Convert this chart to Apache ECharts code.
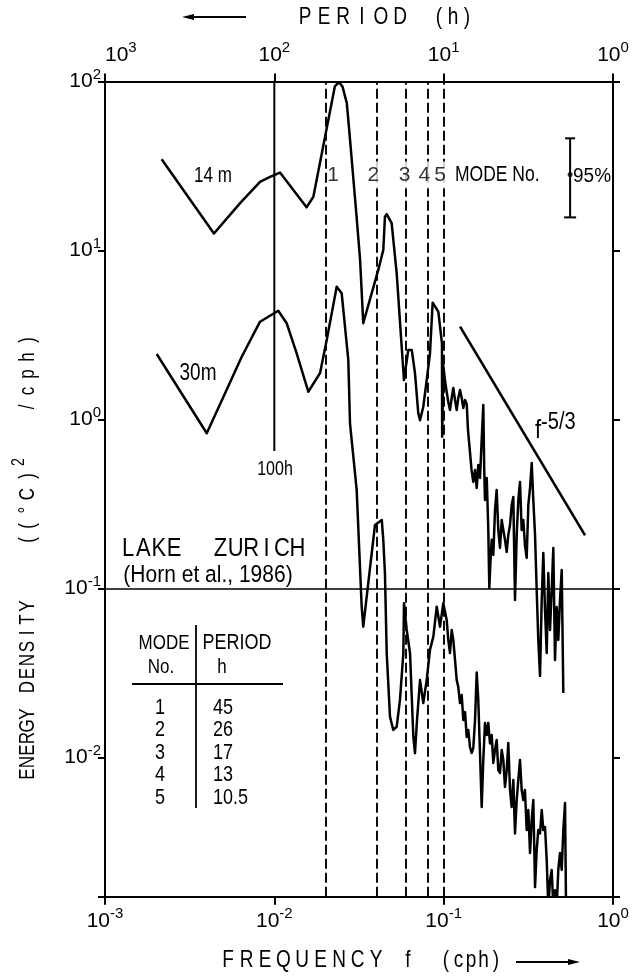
<!DOCTYPE html>
<html>
<head>
<meta charset="utf-8">
<script src="https://cdn.jsdelivr.net/npm/echarts@6/dist/echarts.min.js"></script>
<style>
  html, body { margin: 0; padding: 0; background: #fff; }
  #chart { width: 634px; height: 979px; }
</style>
</head>
<body>
<div id="chart"></div>
<script>
// Energy density spectra of temperature, Lake Zurich (Horn et al., 1986)
// frequency in cph, energy density in (°C)^2/cph

// 14 m record
const freq14 = [
  0.00216, 0.0044, 0.00626, 0.00823, 0.00943, 0.0108, 0.0155, 0.0170, 0.0228, 0.0241,
  0.0253, 0.0268, 0.0280, 0.0306, 0.0321, 0.0335, 0.0411, 0.0440, 0.0450, 0.0461,
  0.0493, 0.0528, 0.0565, 0.0583, 0.0618, 0.0648, 0.0677, 0.0708, 0.0725, 0.0758,
  0.0794, 0.0830, 0.0861, 0.0930, 0.0977, 0.0980, 0.0995, 0.1018, 0.1042, 0.1065,
  0.1090, 0.1115, 0.1140, 0.1167, 0.1194, 0.1220, 0.1249, 0.1278, 0.1306, 0.1337,
  0.1368, 0.1392, 0.1430, 0.1461, 0.1496, 0.1532, 0.1567, 0.1601, 0.1639, 0.1677,
  0.1714, 0.1736, 0.1754, 0.1796, 0.1834, 0.1860, 0.1891, 0.1922, 0.1964, 0.2010,
  0.2056, 0.2102, 0.2151, 0.2202, 0.2250, 0.2302, 0.2357, 0.2408, 0.2465, 0.2522,
  0.2578, 0.2638, 0.2700, 0.2760, 0.2823, 0.2889, 0.2954, 0.3020, 0.3092, 0.3162,
  0.3236, 0.3311, 0.3384, 0.3464, 0.3543, 0.3621, 0.3707, 0.3793, 0.3877, 0.3967,
  0.4060, 0.4150, 0.4246, 0.4345, 0.4441, 0.4545, 0.4650, 0.4753, 0.4864, 0.4979,
  0.5089];
const energy14 = [
  34.7, 12.6, 19.0, 25.5, 27.3, 28.9, 18.0, 20.8, 94, 99,
  93, 74.3, 45.1, 15.85, 8.79, 3.71, 7.67, 10.07, 15.85, 16.4,
  14.5, 7.33, 2.70, 1.71, 2.58, 2.58, 1.88, 1.09, 0.99, 1.19,
  1.71, 2.46, 4.91, 4.34, 2.82, 0.79, 2.07, 1.71, 1.455, 1.27,
  1.138, 1.34, 1.536, 1.304, 1.138, 1.34, 1.495, 1.34, 1.17, 1.304,
  1.235, 0.867, 0.642, 0.503, 0.427, 0.503, 0.393, 0.538, 0.451, 0.756,
  1.218, 0.503, 0.334, 0.451, 0.228, 0.1007, 0.1475, 0.194, 0.158, 0.291,
  0.383, 0.222, 0.1737, 0.254, 0.222, 0.194, 0.1644, 0.2073, 0.2375, 0.312,
  0.3478, 0.0855, 0.2073, 0.334, 0.427, 0.222, 0.254, 0.1809, 0.1516, 0.312,
  0.393, 0.553, 0.334, 0.2073, 0.098, 0.0496, 0.0304, 0.0855, 0.1622, 0.0746,
  0.0415, 0.1235, 0.0568, 0.098, 0.1737, 0.0378, 0.0777, 0.0496, 0.0855, 0.1287,
  0.0241];

// 30 m record
const freq30 = [
  0.00202, 0.00399, 0.00642, 0.00823, 0.01055, 0.01183, 0.01355, 0.01587, 0.01861, 0.02039,
  0.02335, 0.02499, 0.02734, 0.02798, 0.03064, 0.0328, 0.0335, 0.0393, 0.0431, 0.0440,
  0.0450, 0.0461, 0.0482, 0.0504, 0.0528, 0.0552, 0.0578, 0.0583, 0.0605, 0.0633,
  0.0662, 0.0677, 0.0696, 0.0725, 0.0758, 0.0794, 0.0830, 0.0869, 0.0910, 0.0952,
  0.0995, 0.1042, 0.1065, 0.1090, 0.1115, 0.1140, 0.1167, 0.1194, 0.1220, 0.1249,
  0.1278, 0.1306, 0.1337, 0.1368, 0.1398, 0.1430, 0.1464, 0.1496, 0.1532, 0.1567,
  0.1601, 0.1639, 0.1677, 0.1714, 0.1754, 0.1796, 0.1834, 0.1878, 0.1922, 0.1964,
  0.2010, 0.2056, 0.2102, 0.2151, 0.2202, 0.2250, 0.2302, 0.2357, 0.2408, 0.2465,
  0.2522, 0.2578, 0.2638, 0.2700, 0.2760, 0.2823, 0.2889, 0.2954, 0.3020, 0.3092,
  0.3162, 0.3236, 0.3311, 0.3384, 0.3464, 0.3543, 0.3621, 0.3707, 0.3793, 0.3877,
  0.3967, 0.4060, 0.4150, 0.4246, 0.4345, 0.4441, 0.4545, 0.4650, 0.4753, 0.4864,
  0.4979, 0.5089, 0.5208, 0.5280];
const energy30 = [
  2.44, 0.829, 2.35, 3.79, 4.40, 3.71, 2.46, 1.46, 1.88, 2.95,
  6.11, 5.58, 2.25, 0.949, 0.383, 0.078, 0.0594, 0.2375, 0.254, 0.194,
  0.123, 0.0414, 0.01744, 0.01455, 0.0152, 0.0219, 0.0414, 0.0818, 0.0568, 0.0414,
  0.01327, 0.0106, 0.01667, 0.0287, 0.0210, 0.0287, 0.0433, 0.0519, 0.078, 0.0594,
  0.0818, 0.0651, 0.0496, 0.0415, 0.0568, 0.0496, 0.0378, 0.0287, 0.0261, 0.0210,
  0.0234, 0.01667, 0.0186, 0.01322, 0.01455, 0.01153, 0.01063, 0.01138, 0.01667, 0.0318,
  0.0219, 0.01063, 0.00509, 0.00967, 0.016, 0.01358, 0.016, 0.0121, 0.01358, 0.00928,
  0.01108, 0.0127, 0.00843, 0.0081, 0.01108, 0.00967, 0.00669, 0.00843, 0.01218, 0.00642,
  0.00509, 0.00736, 0.00355, 0.0056, 0.00736, 0.00967, 0.00642, 0.0056, 0.00642, 0.00372,
  0.00489, 0.00272, 0.00427, 0.0056, 0.00171, 0.00284, 0.00372, 0.00355, 0.00489, 0.00372,
  0.00388, 0.00247, 0.0013, 0.00188, 0.00216, 0.0013, 0.00164, 0.0013, 0.00216, 0.00272,
  0.00216, 0.00372, 0.00538, 0.0013];

// Seiche modes and their periods (h)
const modeNumbers = [1, 2, 3, 4, 5];
const modePeriods = [45, 26, 17, 13, 10.5];
const modeLabelLevel = 28;

// 100 h marker
const markerPeriod = 100;
const markerFloor = 0.65;

// f^-5/3 reference slope (end points)
const slopeFreq = [0.125, 0.684];
const slopeEnergy = [3.54, 0.206];

// 95% confidence interval
const ciFreq = 0.558;
const ciLow = 15.7;
const ciHigh = 46.1;
const ciMid = 28.2;

// axis ranges
const freqRange = [0.001, 1];
const periodRange = [1, 1000];
const energyRange = [0.0015, 100];

const FONT = '"Liberation Sans", Arial, Helvetica, sans-serif';
const INK = '#000';

const modeFreqs = modePeriods.map(p => 1 / p);
const pairs = (xs, ys) => xs.map((x, i) => [x, ys[i]]);

function powerLabel(v) {
  const e = Math.log10(v);
  const r = Math.round(e);
  if (Math.abs(e - r) > 1e-6) return '';
  return '{b|10}{s|' + (r < 0 ? '-' + (-r) : r) + '}';
}

const powerRich = {
  b: { fontSize: 21, fontFamily: FONT, color: INK },
  s: { fontSize: 15, fontFamily: FONT, color: INK, padding: [0, 0, 14, 0] }
};

function axisBase(extra) {
  return Object.assign({
    type: 'log',
    logBase: 10,
    axisLine: { show: true, onZero: false, lineStyle: { color: INK, width: 2 } },
    axisTick: { show: true, inside: false, length: 7, lineStyle: { color: INK, width: 2 } },
    minorTick: { show: false },
    splitLine: { show: false },
    minorSplitLine: { show: false },
    axisLabel: { show: true, formatter: powerLabel, rich: powerRich, margin: 8 }
  }, extra);
}

// lettering helpers: narrow, tall glyphs are made by stretching vertically
function txt(x, y, text, size, opt) {
  opt = opt || {};
  return {
    type: 'text', x: x, y: y, z: 50,
    rotation: opt.rotation || 0,
    scaleX: opt.scaleX || 1, scaleY: opt.scaleY || 1,
    style: {
      text: text, fill: INK, fontSize: size, fontFamily: FONT,
      fontWeight: opt.weight || 'normal',
      textAlign: opt.align || 'center', align: opt.align || 'center',
      textVerticalAlign: 'middle', verticalAlign: 'middle',
      rich: opt.rich
    }
  };
}
function spaced(chars, x0, step, y, size, opt) {
  const out = [];
  for (let i = 0; i < chars.length; i++) {
    if (chars[i] !== ' ') out.push(txt(x0 + i * step, y, chars[i], size, opt));
  }
  return out;
}
function seg(x1, y1, x2, y2, w) {
  return { type: 'line', z: 50, shape: { x1: x1, y1: y1, x2: x2, y2: y2 },
    style: { stroke: INK, lineWidth: w || 1.5 } };
}
function arrow(x1, x2, y) {
  const dir = x2 > x1 ? 1 : -1;
  return [
    seg(x1, y, x2 - dir * 8, y, 1.8),
    { type: 'polygon', z: 50, shape: { points: [[x2, y], [x2 - dir * 12, y - 3], [x2 - dir * 12, y + 3]] },
      style: { fill: INK } }
  ];
}

const tall = { scaleY: 1.25 };
const graphics = [];
// top title
graphics.push(...arrow(246, 182, 17));
graphics.push(...spaced('PERIOD', 305, 19, 17, 19, tall));
graphics.push(...spaced('(h)', 439, 14, 17, 19, tall));
// bottom title
graphics.push(...spaced('FREQUENCY', 228, 18.5, 960, 19, tall));
graphics.push(txt(408, 960, 'f', 19, tall));
graphics.push(...spaced('(cph)', 446, 12.5, 960, 19, tall));
graphics.push(...arrow(516, 580, 962));
// left title, read bottom to top
const leftChars = [
  ['E', 774], ['N', 762], ['E', 750], ['R', 738], ['G', 726], ['Y', 714],
  ['D', 687], ['E', 673.5], ['N', 660], ['S', 646.5], ['I', 633], ['T', 619.5], ['Y', 606],
  ['(', 540], ['(', 526], ['°', 510], ['C', 494], [')', 476], ['/', 407], ['c', 391], ['p', 374], ['h', 357], [')', 340]
];
leftChars.forEach(c => graphics.push(txt(28, c[1], c[0], 17, { rotation: Math.PI / 2, scaleY: 1.35 })));
graphics.push(txt(19, 462, '2', 14, { rotation: Math.PI / 2, scaleY: 1.3 }));

// curve and marker labels
graphics.push(txt(213, 176, '14 m', 17, tall));
graphics.push(txt(198, 373, '30m', 19, tall));
graphics.push(txt(275, 469, '100h', 16, { scaleY: 1.3 }));
graphics.push(txt(455, 175, 'MODE No.', 17.5, { align: 'left', scaleY: 1.25 }));
graphics.push(txt(573, 176, '95%', 19, { align: 'left', scaleY: 1.1 }));
graphics.push(txt(535, 431, '{f|f}{s|-5/3}', 21, { align: 'left', scaleY: 1.15, rich: {
  f: { fontSize: 22, fontFamily: FONT, color: INK },
  s: { fontSize: 20, fontFamily: FONT, color: INK, padding: [0, 0, 14, 0] } } }));

// site label
graphics.push(...spaced('LAKE  ZURICH', 128, 15.4, 549, 22, { scaleY: 1.15 }));
graphics.push(txt(208, 576, '(Horn et al., 1986)', 21, { scaleY: 1.1 }));

// table of modes
const tbl = { scaleY: 1.2 };
graphics.push(txt(164, 643, 'MODE', 17, tbl));
graphics.push(txt(237, 643, 'PERIOD', 18, tbl));
graphics.push(txt(161, 667, 'No.', 17, tbl));
graphics.push(txt(222, 667, 'h', 17, tbl));
graphics.push(seg(132, 684, 283, 684, 1.8));
graphics.push(seg(196, 625, 196, 808, 1.8));
modeNumbers.forEach((m, i) => {
  const y = 708 + i * 22.5;
  graphics.push(txt(160, y, String(m), 18, tbl));
  graphics.push(txt(213, y, String(modePeriods[i]), 18, Object.assign({ align: 'left' }, tbl)));
});

const lineStyle = { color: INK, width: 2.5, join: 'round' };

const option = {
  animation: false,
  backgroundColor: '#fff',
  grid: { left: 105, right: 21, top: 81.5, bottom: 82.3, containLabel: false, outerBoundsMode: 'none' },
  xAxis: [
    axisBase({ min: freqRange[0], max: freqRange[1], position: 'bottom',
      axisTick: { show: true, length: 8, lineStyle: { color: INK, width: 2 } },
      axisLabel: { show: true, formatter: powerLabel, rich: powerRich, margin: 10 } }),
    axisBase({ min: periodRange[0], max: periodRange[1], position: 'top', inverse: true,
      axisTick: { show: true, length: 8, lineStyle: { color: INK, width: 2 } },
      axisLabel: { show: true, formatter: powerLabel, rich: powerRich, margin: 12, alignMaxLabel: 'left' } })
  ],
  yAxis: [
    axisBase({ min: energyRange[0], max: energyRange[1], position: 'left',
      axisLabel: { show: true, formatter: powerLabel, rich: powerRich, margin: 4 } }),
    axisBase({ min: energyRange[0], max: energyRange[1], position: 'right',
      axisLabel: { show: false } })
  ],
  series: [
    {
      type: 'line', name: 'modes', data: [], xAxisIndex: 0, yAxisIndex: 0, z: 2,
      markLine: {
        silent: true, symbol: ['none', 'none'], animation: false,
        label: { show: false },
        data: modeFreqs.map(f => ({ xAxis: f, lineStyle: { color: INK, width: 1.9, type: [10, 4] } }))
          .concat([{ yAxis: 0.1, lineStyle: { color: INK, width: 1.6, type: 'solid' } }])
      }
    },
    {
      type: 'scatter', name: 'mode labels', xAxisIndex: 0, yAxisIndex: 0, z: 8,
      data: modeFreqs.map(f => [f, modeLabelLevel]),
      symbolSize: 0,
      label: { show: true, position: 'inside', formatter: p => String(modeNumbers[p.dataIndex]),
        fontSize: 21, fontFamily: FONT, color: INK, backgroundColor: '#fff', padding: [3, 0] }
    },
    {
      type: 'line', name: '100 h', xAxisIndex: 0, yAxisIndex: 0, z: 3, symbol: 'none',
      data: [[1 / markerPeriod, markerFloor], [1 / markerPeriod, energyRange[1]]],
      lineStyle: { color: INK, width: 2 }
    },
    {
      type: 'line', name: '14 m', xAxisIndex: 0, yAxisIndex: 0, z: 5, symbol: 'none',
      data: pairs(freq14, energy14), lineStyle: lineStyle, clip: true
    },
    {
      type: 'line', name: '30 m', xAxisIndex: 0, yAxisIndex: 0, z: 5, symbol: 'none',
      data: pairs(freq30, energy30), lineStyle: lineStyle, clip: true
    },
    {
      type: 'line', name: 'f^-5/3', xAxisIndex: 0, yAxisIndex: 0, z: 5, symbol: 'none',
      data: pairs(slopeFreq, slopeEnergy), lineStyle: { color: INK, width: 2.6 }
    },
    {
      type: 'custom', name: '95%', xAxisIndex: 0, yAxisIndex: 0, z: 6,
      data: [[ciFreq, ciLow, ciHigh]],
      encode: { x: 0, y: [1, 2] },
      renderItem: function (params, api) {
        const lo = api.coord([api.value(0), api.value(1)]);
        const hi = api.coord([api.value(0), api.value(2)]);
        const cap = 5;
        const st = { stroke: INK, lineWidth: 2 };
        return {
          type: 'group', children: [
            { type: 'line', shape: { x1: lo[0], y1: lo[1], x2: hi[0], y2: hi[1] }, style: st },
            { type: 'line', shape: { x1: lo[0] - cap - 1, y1: lo[1], x2: lo[0] + cap + 1, y2: lo[1] }, style: st },
            { type: 'line', shape: { x1: hi[0] - cap, y1: hi[1], x2: hi[0] + cap, y2: hi[1] }, style: st }
          ]
        };
      }
    },
    {
      type: 'scatter', name: 'estimate', xAxisIndex: 0, yAxisIndex: 0, z: 7,
      data: [[ciFreq, ciMid]], symbol: 'circle', symbolSize: 5,
      itemStyle: { color: INK }
    }
  ],
  graphic: graphics
};

const chart = echarts.init(document.getElementById('chart'));
chart.setOption(option);
</script>
</body>
</html>
